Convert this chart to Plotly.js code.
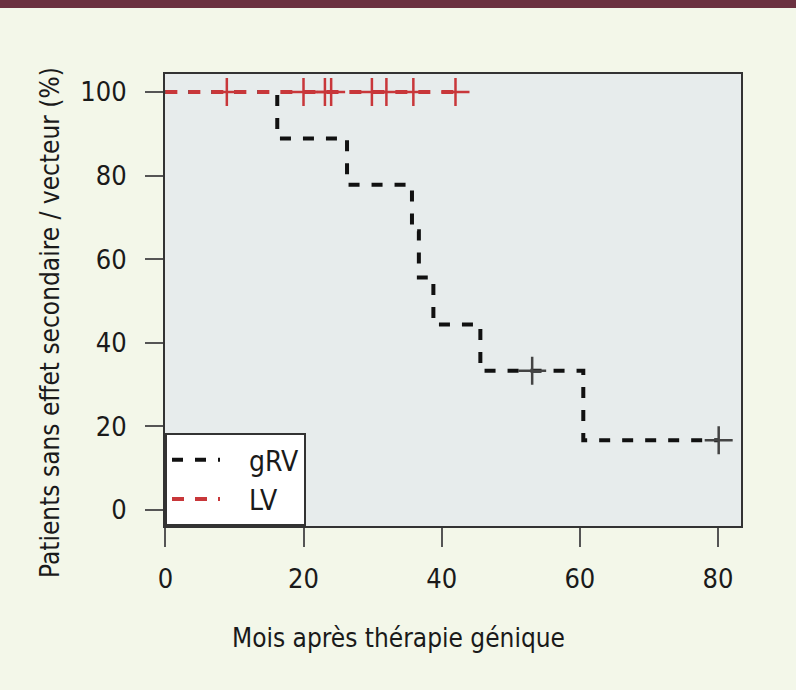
<!DOCTYPE html>
<html>
<head>
<meta charset="utf-8">
<script src="https://cdn.plot.ly/plotly-3.0.1.min.js"></script>
<style>
html,body{margin:0;padding:0;background:#f3f7e9;}
#chart{width:796px;height:690px;}
</style>
</head>
<body>
<div id="chart"></div>
<script>
// Kaplan-Meier step data
const grvTime = [0, 16.2, 26.3, 35.7, 36.7, 38.8, 45.6, 60.5, 80.1];
const grvSurv = [100, 88.9, 77.8, 66.7, 55.6, 44.4, 33.3, 16.7, 16.7];
const grvCensorTime = [53.1, 80.1];
const grvCensorSurv = [33.3, 16.7];

const lvTime = [0, 42.0];
const lvSurv = [100, 100];
const lvCensorTime = [8.9, 20.0, 23.1, 24.0, 29.9, 32.0, 35.9, 42.0];
const lvCensorSurv = [100, 100, 100, 100, 100, 100, 100, 100];

const xTicks = [0, 20, 40, 60, 80];
const yTicks = [0, 20, 40, 60, 80, 100];

const xTitle = 'Mois après thérapie génique';
const yTitle = 'Patients sans effet secondaire / vecteur (%)';

const FONT = '"DejaVu Sans Condensed", "Liberation Sans Narrow", "Liberation Sans", sans-serif';
const BLACK = '#111111';
const RED = '#c8373a';
const NB = '\u00a0\u00a0\u00a0';

const traces = [
  {
    x: grvTime, y: grvSurv, name: NB + 'gRV', mode: 'lines', type: 'scatter',
    line: {shape: 'hv', color: BLACK, width: 4, dash: '11px,12px'},
    hoverinfo: 'skip'
  },
  {
    x: grvCensorTime, y: grvCensorSurv, mode: 'markers', type: 'scatter', showlegend: false,
    marker: {symbol: 'cross-thin', size: 20, line: {color: '#444444', width: 2.5}},
    hoverinfo: 'skip'
  },
  {
    x: lvTime, y: lvSurv, name: NB + 'LV', mode: 'lines', type: 'scatter',
    line: {shape: 'hv', color: RED, width: 4, dash: '12px,11px'},
    hoverinfo: 'skip'
  },
  {
    x: lvCensorTime, y: lvCensorSurv, mode: 'markers', type: 'scatter', showlegend: false,
    marker: {symbol: 'cross-thin', size: 20, line: {color: RED, width: 2.5}},
    hoverinfo: 'skip'
  }
];

const layout = {
  width: 796, height: 690,
  paper_bgcolor: '#f3f7e9',
  plot_bgcolor: '#e7ecec',
  margin: {l: 165, r: 55, t: 74, b: 164},
  font: {family: FONT, color: '#1a1a1a', size: 27},
  showlegend: true,
  legend: {
    x: 0, y: 0, xanchor: 'left', yanchor: 'bottom',
    bgcolor: '#ffffff', bordercolor: '#333333', borderwidth: 2,
    font: {family: FONT, size: 28, color: '#1a1a1a'},
    itemwidth: 48, tracegroupgap: 0
  },
  xaxis: {
    range: [-0.05, 83.33],
    tickmode: 'array', tickvals: xTicks, ticktext: xTicks.map(String),
    ticks: 'outside', ticklen: 19, tickwidth: 2, tickcolor: '#555555',
    ticklabelstandoff: 9,
    showline: true, mirror: true, linecolor: '#333333', linewidth: 2,
    showgrid: false, zeroline: false,
    tickfont: {family: FONT, size: 27, color: '#1a1a1a'}
  },
  yaxis: {
    range: [-3.83, 104.31],
    tickmode: 'array', tickvals: yTicks, ticktext: yTicks.map(String),
    ticks: 'outside', ticklen: 18, tickwidth: 2, tickcolor: '#555555',
    ticklabelstandoff: 13,
    showline: true, mirror: true, linecolor: '#333333', linewidth: 2,
    showgrid: false, zeroline: false,
    tickfont: {family: FONT, size: 27, color: '#1a1a1a'}
  },
  annotations: [
    {text: xTitle, xref: 'paper', yref: 'paper', x: (398 - 165) / 576, y: (526 - 638) / 452,
     xanchor: 'center', yanchor: 'middle', showarrow: false,
     font: {family: FONT, size: 26, color: '#1a1a1a'}},
    {text: yTitle, xref: 'paper', yref: 'paper', x: (50 - 165) / 576, y: 1 - (323 - 74) / 452,
     xanchor: 'center', yanchor: 'middle', showarrow: false, textangle: -90,
     font: {family: FONT, size: 26, color: '#1a1a1a'}}
  ],
  shapes: [
    {type: 'rect', xref: 'paper', yref: 'paper',
     x0: -165/576, x1: 1 + 55/576, y0: 1 + (74 - 8)/452, y1: 1 + 74/452,
     fillcolor: '#6b3140', line: {width: 0}, layer: 'above'}
  ]
};

Plotly.newPlot('chart', traces, layout, {displayModeBar: false, staticPlot: true});
</script>
</body>
</html>
